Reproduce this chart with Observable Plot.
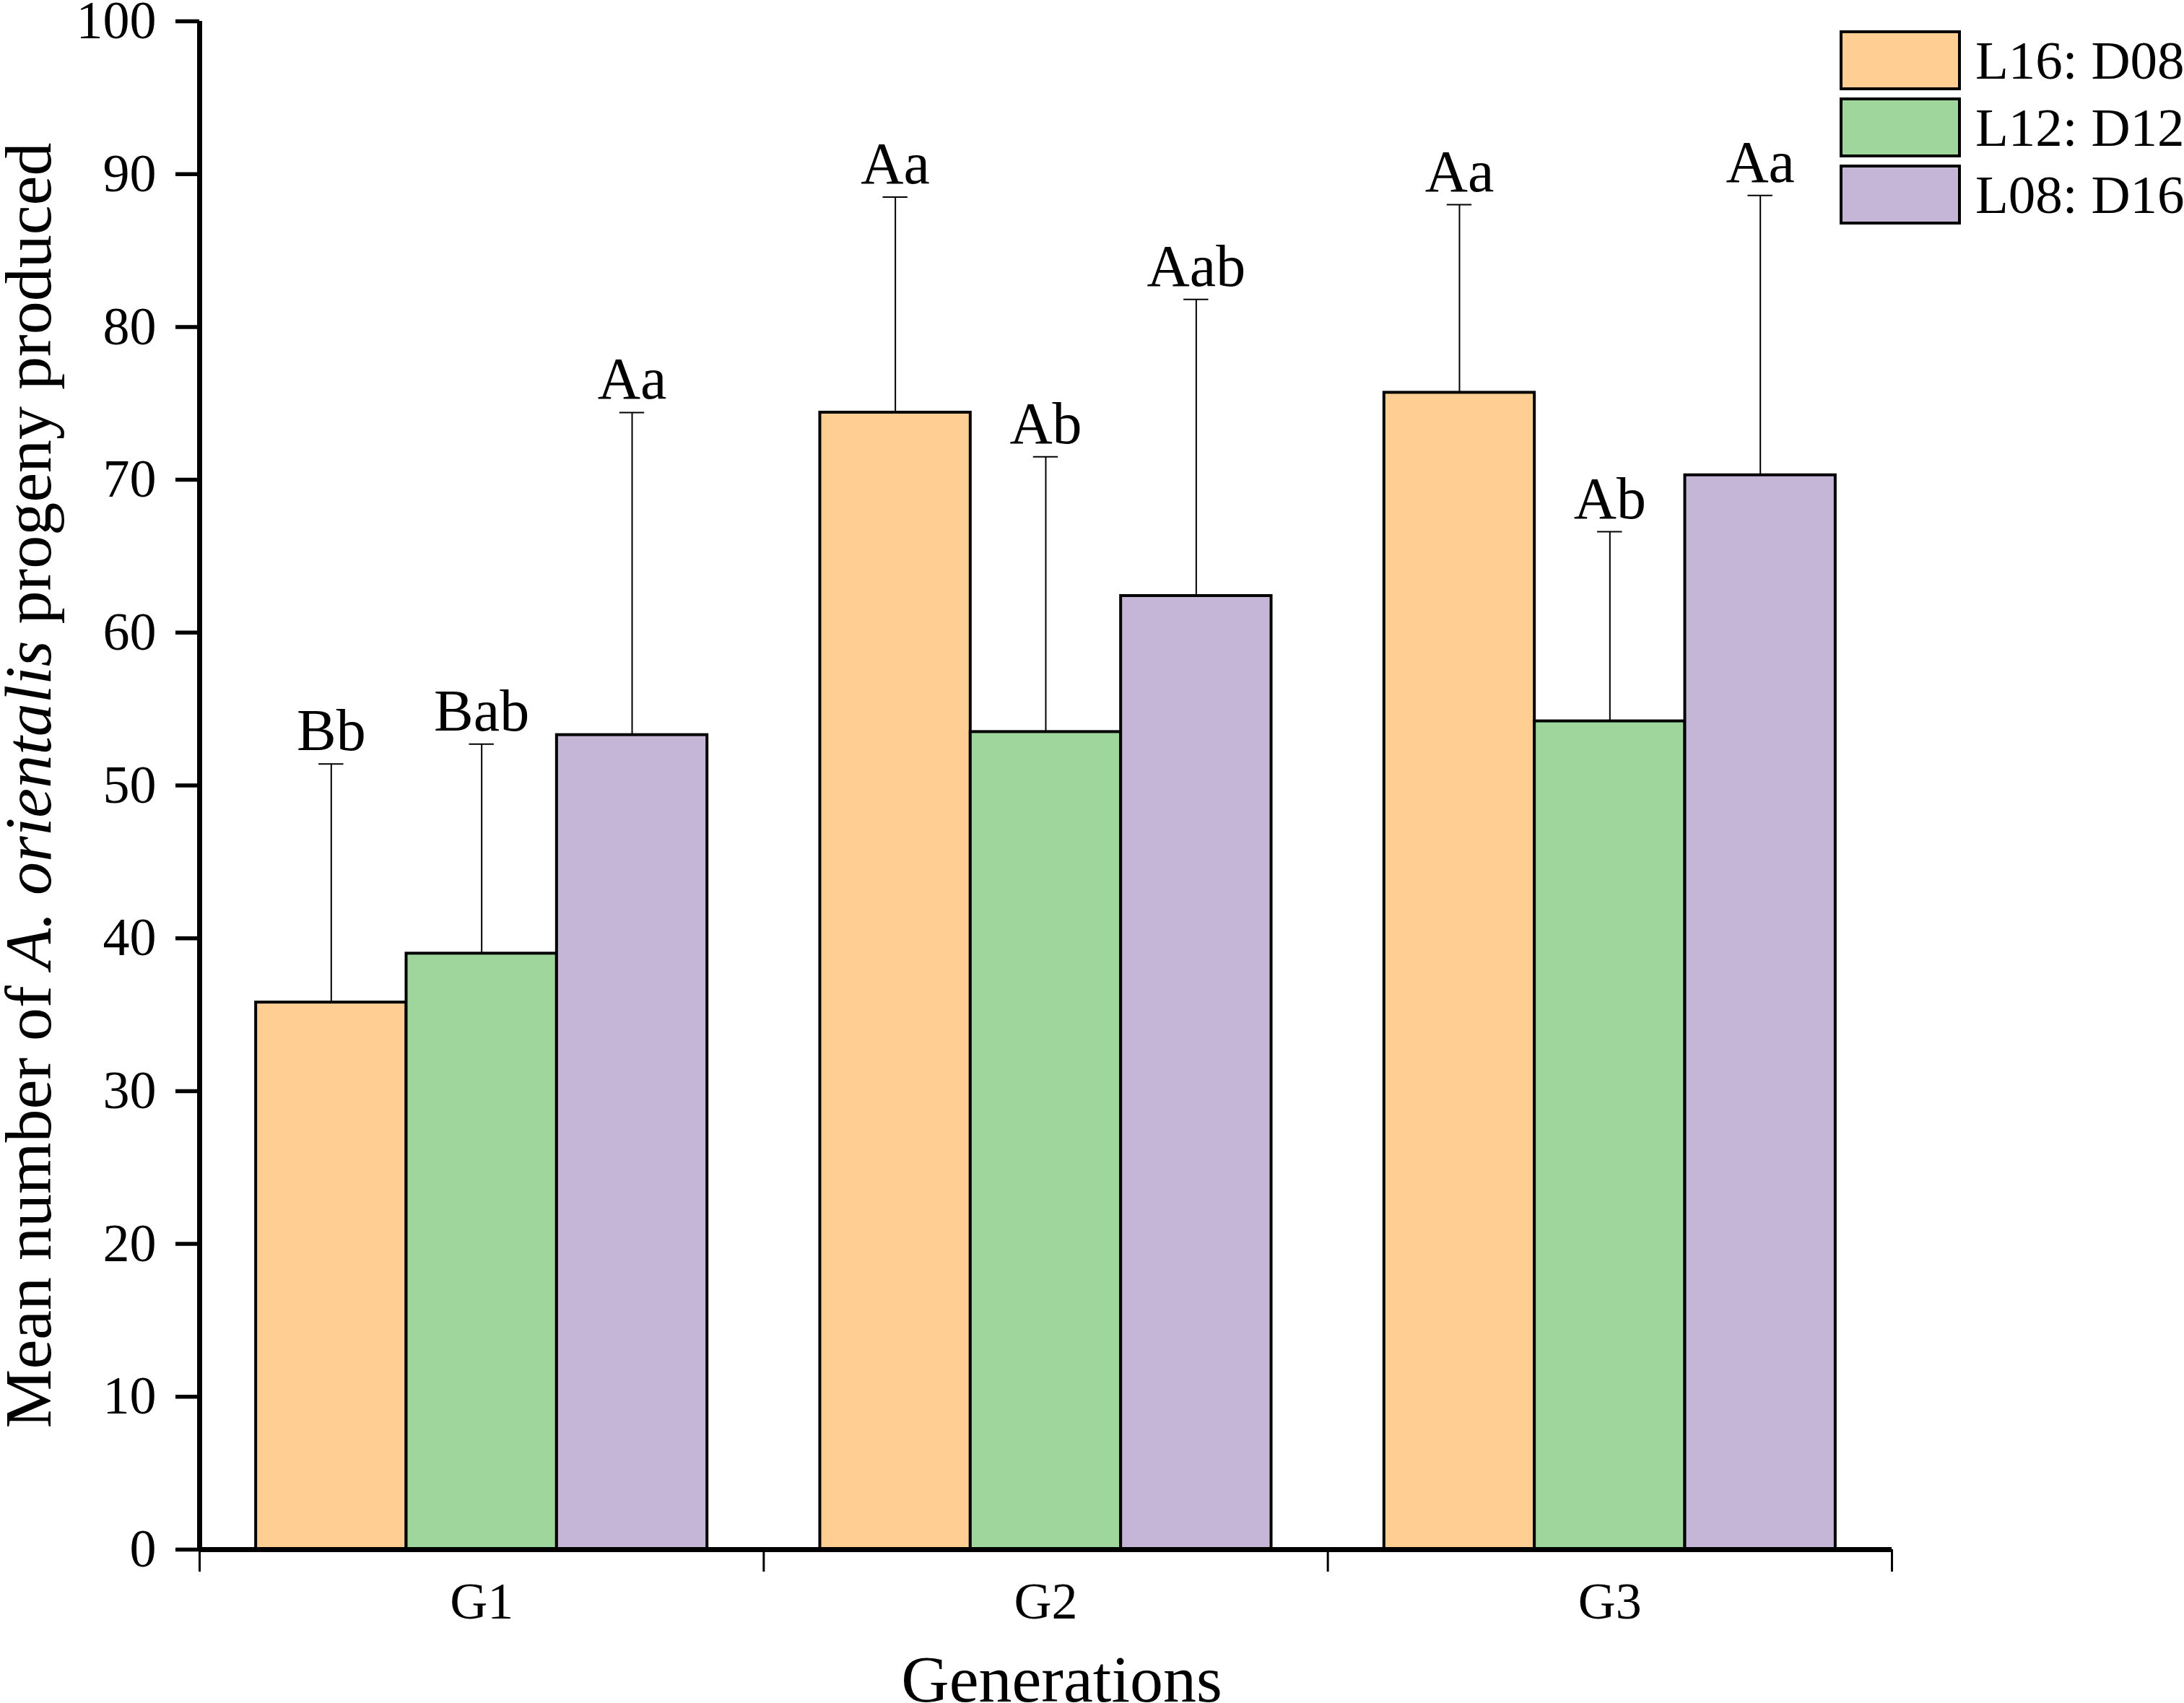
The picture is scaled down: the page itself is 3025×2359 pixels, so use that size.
<!DOCTYPE html>
<html><head><meta charset="utf-8">
<script src="https://cdn.jsdelivr.net/npm/d3@7"></script>
<script src="https://cdn.jsdelivr.net/npm/@observablehq/plot@0.6"></script>
<style>
html,body{margin:0;padding:0;background:#fff;}
#wrap{position:relative;width:3025px;height:2359px;}
#legend{position:absolute;left:2550px;top:42px;}
.lg-swatch{padding-bottom:0 !important;margin-bottom:10px;}
.lg-swatch > svg{margin-right:22px !important;}
.lg-swatch svg rect{stroke:#000;stroke-width:4px;}
.lg-swatch-label{line-height:83px;overflow:visible !important;}
</style></head>
<body><div id="wrap"><div id="chart"></div><div id="legend"></div></div>
<script>
const generations = ["G1", "G2", "G3"];
const treatments = ["L16: D08", "L12: D12", "L08: D16"];
const meanL16D08 = [35.8, 74.4, 75.7];
const meanL12D12 = [39.0, 53.5, 54.2];
const meanL08D16 = [53.3, 62.4, 70.3];
const sdL16D08 = [15.6, 14.1, 12.3];
const sdL12D12 = [13.7, 18.0, 12.4];
const sdL08D16 = [21.1, 19.4, 18.3];
const lettersL16D08 = ["Bb", "Aa", "Aa"];
const lettersL12D12 = ["Bab", "Ab", "Ab"];
const lettersL08D16 = ["Aa", "Aab", "Aa"];
const yTicks = [0, 10, 20, 30, 40, 50, 60, 70, 80, 90, 100];
const colors = ["#FECE93", "#9ED69C", "#C5B5D7"];

// layout within each generation group (in x-scale units; group width = 1)
const groupPad = 0.1, barW = 0.8 / 3, capHalf = 0.022;
const meansBy = [meanL16D08, meanL12D12, meanL08D16];
const sdsBy = [sdL16D08, sdL12D12, sdL08D16];
const lettersBy = [lettersL16D08, lettersL12D12, lettersL08D16];
const rows = [];
generations.forEach((g, gi) => {
  treatments.forEach((t, ti) => {
    const x1 = gi + groupPad + ti * barW;
    const mean = meansBy[ti][gi], sd = sdsBy[ti][gi];
    rows.push({gen: g, treatment: t, x1, x2: x1 + barW, xc: x1 + barW / 2,
      c1: x1 + barW / 2 - capHalf, c2: x1 + barW / 2 + capHalf,
      mean, top: mean + sd, letter: lettersBy[ti][gi]});
  });
});
const boundaries = d3.range(generations.length + 1);
const centers = generations.map((g, i) => i + 0.5);

const font = '"Liberation Serif", "Times New Roman", serif';
const chart = Plot.plot({
  width: 3025, height: 2359,
  marginTop: 29, marginLeft: 276, marginRight: 405, marginBottom: 213,
  style: {fontFamily: font, fontSize: "74px", color: "#000", background: "#fff"},
  x: {domain: [0, generations.length]},
  y: {domain: [0, 100]},
  color: {domain: treatments, range: colors},
  marks: [
    Plot.rect(rows, {x1: "x1", x2: "x2", y1: 0, y2: "mean", fill: "treatment", stroke: "#000", strokeWidth: 4}),
    Plot.ruleX(rows, {x: "xc", y1: "mean", y2: "top", stroke: "#000", strokeWidth: 2}),
    Plot.ruleY(rows, {y: "top", x1: "c1", x2: "c2", stroke: "#000", strokeWidth: 2}),
    Plot.text(rows, {x: "xc", y: "top", text: "letter", lineAnchor: "bottom", dy: -19, fontSize: 82}),
    Plot.ruleX([0], {stroke: "#000", strokeWidth: 7}),
    Plot.ruleY([0], {stroke: "#000", strokeWidth: 7}),
    Plot.axisY({ticks: yTicks, tickSize: 33, tickPadding: 27, strokeWidth: 5.5, label: null, fontSize: 74}),
    Plot.axisY({ticks: [], label: "Mean number of A. orientalis progeny produced", labelAnchor: "center", labelArrow: "none", labelOffset: 272, fontSize: 92}),
    Plot.axisX({ticks: boundaries, tickSize: 31, strokeWidth: 3, tickFormat: () => "", label: null}),
    Plot.axisX({ticks: centers, tickSize: 0, tickPadding: 44, tickFormat: d => generations[Math.floor(d)], label: null, fontSize: 72}),
    Plot.axisX({ticks: [], label: "Generations", labelAnchor: "center", labelArrow: "none", fontSize: 92})
  ]
});
document.getElementById("chart").appendChild(chart);

// italicise the species name in the y-axis label
const lab = d3.select(chart).select('g[aria-label="y-axis label"] text');
if (!lab.empty()) {
  lab.text(null);
  lab.append("tspan").text("Mean number of ");
  lab.append("tspan").attr("font-style", "italic").text("A. orientalis");
  lab.append("tspan").text(" progeny produced");
}
// the x-axis title sits slightly right of the frame centre in the original
const xl = d3.select(chart).select('g[aria-label="x-axis label"]');
if (!xl.empty()) {
  const old = xl.attr("transform");
  xl.attr("transform", (old ? old + " " : "") + "translate(22,0)");
}

const legend = Plot.legend({
  color: {domain: treatments, range: colors},
  legend: "swatches", columns: 1, swatchWidth: 164, swatchHeight: 79, className: "lg",
  style: {fontFamily: font, fontSize: "75px", color: "#000"}
});
document.getElementById("legend").appendChild(legend);
</script>
</body></html>
